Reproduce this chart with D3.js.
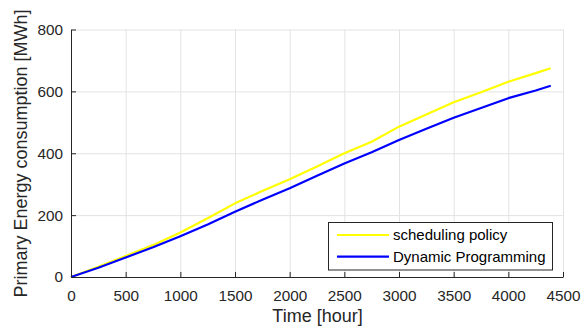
<!DOCTYPE html>
<html>
<head>
<meta charset="utf-8">
<script src="https://cdn.jsdelivr.net/npm/d3@7"></script>
<style>
  body { margin: 0; background: #fff; }
  svg { font-family: "Liberation Sans", Arial, sans-serif; }
  .grid line { stroke: #e3e3e3; stroke-width: 1; }
  .grid path { stroke: none; }
  .axis path, .axis line { stroke: #262626; }
  .axis text { fill: #262626; font-size: 15.3px; }
  .label { fill: #262626; font-size: 18px; }
</style>
</head>
<body>
<svg width="583" height="336"></svg>
<script>
// values
const hours = [0, 250, 500, 750, 1000, 1250, 1500, 1750, 2000, 2250, 2500, 2750, 3000, 3250, 3500, 3750, 4000, 4250, 4388]
const scheduling = [0, 33, 68, 103, 144, 190, 238, 278, 316, 357, 400, 437, 486, 525, 565, 597, 631, 659, 675]
const dynamicProg = [0, 30, 63, 96, 132, 170, 211, 250, 287, 327, 367, 403, 443, 479, 515, 546, 578, 603, 618]
const xTicks = [0, 500, 1000, 1500, 2000, 2500, 3000, 3500, 4000, 4500]
const yTicks = [0, 200, 400, 600, 800]
const seriesNames = ['scheduling policy', 'Dynamic Programming']
const seriesColors = ['#ffff00', '#0000ff']

const svg = d3.select('svg')
const plotLeft = 71, plotRight = 563, plotTop = 29.5, plotBottom = 277

const xScale = d3.scaleLinear().domain([0, 4500]).range([plotLeft, plotRight])
const yScale = d3.scaleLinear().domain([0, 800]).range([plotBottom, plotTop])

// grid
svg.append('g')
  .attr('class', 'grid')
  .attr('transform', `translate(0, ${plotBottom})`)
  .call(d3.axisBottom(xScale).tickValues(xTicks).tickSize(-(plotBottom - plotTop)).tickFormat(''))
svg.append('g')
  .attr('class', 'grid')
  .attr('transform', `translate(${plotLeft}, 0)`)
  .call(d3.axisLeft(yScale).tickValues(yTicks).tickSize(-(plotRight - plotLeft)).tickFormat(''))

// lines
const line = d3.line()
  .x((d, i) => xScale(hours[i]))
  .y(d => yScale(d))

const allSeries = [scheduling, dynamicProg]
allSeries.forEach((s, k) => {
  svg.append('path')
    .datum(s)
    .attr('fill', 'none')
    .attr('stroke', seriesColors[k])
    .attr('stroke-width', 2.2)
    .attr('stroke-linejoin', 'round')
    .attr('d', line)
})

// axes (ticks inward)
svg.append('g')
  .attr('class', 'axis')
  .attr('transform', `translate(0, ${plotBottom})`)
  .call(d3.axisBottom(xScale).tickValues(xTicks).tickFormat(d3.format('d'))
    .tickSizeInner(-5).tickSizeOuter(0).tickPadding(13))

svg.append('g')
  .attr('class', 'axis')
  .attr('transform', `translate(${plotLeft}, 0)`)
  .call(d3.axisLeft(yScale).tickValues(yTicks).tickFormat(d3.format('d'))
    .tickSizeInner(-5).tickSizeOuter(0).tickPadding(8))

// labels
svg.append('text')
  .attr('class', 'label')
  .attr('x', 317.5)
  .attr('y', 322)
  .attr('text-anchor', 'middle')
  .text('Time [hour]')

svg.append('text')
  .attr('class', 'label')
  .attr('transform', `translate(27, 153.5) rotate(-90)`)
  .attr('text-anchor', 'middle')
  .text('Primary Energy consumption [MWh]')

// legend
const legend = svg.append('g')
legend.append('rect')
  .attr('x', 328.5).attr('y', 222.5)
  .attr('width', 224).attr('height', 47.5)
  .attr('fill', '#fff')
  .attr('stroke', '#262626')
  .attr('stroke-width', 1)

seriesNames.forEach((name, k) => {
  const y = 235 + k * 21.7
  legend.append('line')
    .attr('x1', 337).attr('x2', 389)
    .attr('y1', y).attr('y2', y)
    .attr('stroke', seriesColors[k])
    .attr('stroke-width', 2.2)
  legend.append('text')
    .attr('x', 393).attr('y', y)
    .attr('dy', '0.35em')
    .attr('fill', '#000')
    .attr('font-size', '15px')
    .text(name)
})
</script>
</body>
</html>
